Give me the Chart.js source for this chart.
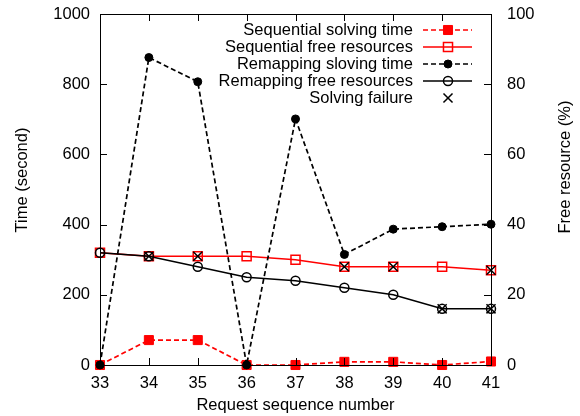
<!DOCTYPE html>
<html>
<head>
<meta charset="utf-8">
<script src="https://cdn.jsdelivr.net/npm/chart.js@4.4.1/dist/chart.umd.min.js"></script>
<style>
  html, body { margin: 0; padding: 0; background: #fff; }
  #wrap { width: 580px; height: 416px; }
</style>
</head>
<body>
<div id="wrap"><canvas id="chart" width="580" height="416"></canvas></div>
<script>
// Data
const requests = [33, 34, 35, 36, 37, 38, 39, 40, 41];
const seqSolveTime = [0, 71, 71, 0, 0, 9, 9, 0, 10];
const seqFreeRes = [32, 31, 31, 31, 30, 28, 28, 28, 27];
const remapSolveTime = [0, 876, 807, 0, 701, 315, 387, 394, 401];
const remapFreeRes = [32, 31, 28, 25, 24, 22, 20, 16, 16];
const failureReq = [34, 35, 38, 39, 40, 41, 41];
const failureRes = [31, 31, 28, 28, 16, 27, 16];

const timeTicks = [0, 200, 400, 600, 800, 1000];
const resTicks = [0, 20, 40, 60, 80, 100];

const FONT = '"Liberation Sans", Arial, sans-serif';
const FS = 16.5;

function pts(xs, ys) {
    return xs.map((x, i) => ({ x: x, y: ys[i] }));
}

// Inner ticks, frame, axis titles and gnuplot style key
const gnuplotLook = {
    id: 'gnuplotLook',
    afterDraw(chart) {
        const ctx = chart.ctx;
        const a = chart.chartArea;
        const xs = chart.scales.x, yl = chart.scales.y, yr = chart.scales.y2;
        const tl = 7;
        ctx.save();
        ctx.strokeStyle = '#000';
        ctx.lineWidth = 1;
        ctx.beginPath();
        requests.forEach(r => {
            const px = Math.round(xs.getPixelForValue(r)) + 0.5;
            ctx.moveTo(px, a.bottom); ctx.lineTo(px, a.bottom - tl);
            ctx.moveTo(px, a.top); ctx.lineTo(px, a.top + tl);
        });
        timeTicks.forEach(v => {
            const py = Math.round(yl.getPixelForValue(v)) + 0.5;
            ctx.moveTo(a.left, py); ctx.lineTo(a.left + tl, py);
        });
        resTicks.forEach(v => {
            const py = Math.round(yr.getPixelForValue(v)) + 0.5;
            ctx.moveTo(a.right, py); ctx.lineTo(a.right - tl, py);
        });
        ctx.stroke();
        ctx.strokeRect(Math.round(a.left) + 0.5, Math.round(a.top) + 0.5,
            Math.round(a.right - a.left), Math.round(a.bottom - a.top));

        // axis titles
        ctx.fillStyle = '#000';
        ctx.font = FS + 'px ' + FONT;
        ctx.textAlign = 'center';
        ctx.textBaseline = 'middle';
        ctx.fillText('Request sequence number', (a.left + a.right) / 2, 405);
        ctx.save();
        ctx.translate(22, 180);
        ctx.rotate(-Math.PI / 2);
        ctx.fillText('Time (second)', 0, 0);
        ctx.restore();
        ctx.save();
        ctx.translate(565, 167);
        ctx.rotate(-Math.PI / 2);
        ctx.fillText('Free resource (%)', 0, 0);
        ctx.restore();

        // key
        const textRight = 413, lineL = 423, lineR = 472, mk = 448;
        chart.data.datasets.forEach((ds, i) => {
            const y = 30 + i * 17;
            ctx.fillStyle = '#000';
            ctx.textAlign = 'right';
            ctx.fillText(ds.label, textRight, y);
            if (ds.showLine !== false) {
                ctx.strokeStyle = ds.borderColor;
                ctx.lineWidth = ds.borderWidth;
                ctx.setLineDash(ds.borderDash || []);
                ctx.beginPath();
                ctx.moveTo(lineL, y); ctx.lineTo(lineR, y);
                ctx.stroke();
                ctx.setLineDash([]);
            }
            ctx.strokeStyle = ds.pointBorderColor;
            ctx.fillStyle = ds.pointBackgroundColor;
            ctx.lineWidth = ds.pointBorderWidth;
            Chart.helpers.drawPoint(ctx, {
                pointStyle: ds.pointStyle,
                radius: ds.pointRadius,
                borderWidth: ds.pointBorderWidth,
                rotation: 0
            }, mk, y);
        });
        ctx.restore();
    }
};

function noPad(s) {
    s.paddingTop = 0; s.paddingBottom = 0;
    s.paddingLeft = 0; s.paddingRight = 0;
}

const ctx = document.getElementById('chart').getContext('2d');
const chart = new Chart(ctx, {
    type: 'line',
    data: {
        datasets: [{
            label: 'Sequential solving time',
            data: pts(requests, seqSolveTime),
            yAxisID: 'y',
            borderColor: '#ff0000',
            borderWidth: 1.7,
            borderDash: [5, 3],
            pointStyle: 'rect',
            pointRadius: 6.4,
            pointBackgroundColor: '#ff0000',
            pointBorderColor: '#ff0000',
            pointBorderWidth: 1,
            order: 4
        }, {
            label: 'Sequential free resources',
            data: pts(requests, seqFreeRes),
            yAxisID: 'y2',
            borderColor: '#ff0000',
            borderWidth: 1.5,
            pointStyle: 'rect',
            pointRadius: 6.4,
            pointBackgroundColor: 'rgba(0,0,0,0)',
            pointBorderColor: '#ff0000',
            pointBorderWidth: 1.5,
            order: 3
        }, {
            label: 'Remapping sloving time',
            data: pts(requests, remapSolveTime),
            yAxisID: 'y',
            borderColor: '#000',
            borderWidth: 1.7,
            borderDash: [5, 3],
            pointStyle: 'circle',
            pointRadius: 4,
            pointBackgroundColor: '#000',
            pointBorderColor: '#000',
            pointBorderWidth: 1,
            order: 2
        }, {
            label: 'Remapping free resources',
            data: pts(requests, remapFreeRes),
            yAxisID: 'y2',
            borderColor: '#000',
            borderWidth: 1.5,
            pointStyle: 'circle',
            pointRadius: 4.5,
            pointBackgroundColor: 'rgba(0,0,0,0)',
            pointBorderColor: '#000',
            pointBorderWidth: 1.5,
            order: 1
        }, {
            label: 'Solving failure',
            data: pts(failureReq, failureRes),
            yAxisID: 'y2',
            showLine: false,
            borderColor: '#000',
            pointStyle: 'crossRot',
            pointRadius: 6.4,
            pointBackgroundColor: '#000',
            pointBorderColor: '#000',
            pointBorderWidth: 1.5,
            order: 0
        }]
    },
    options: {
        responsive: false,
        animation: false,
        clip: false,
        layout: { padding: { top: 14, left: 0, right: 0, bottom: 0 } },
        plugins: {
            legend: { display: false },
            tooltip: { enabled: false }
        },
        elements: { line: { tension: 0 } },
        scales: {
            x: {
                type: 'linear',
                min: 33,
                max: 41,
                afterFit: s => { noPad(s); s.height = 51; },
                afterBuildTicks: s => { s.ticks = requests.map(v => ({ value: v })); },
                grid: { display: false, drawTicks: false },
                border: { display: false },
                ticks: { padding: 9, color: '#000', font: { family: FONT, size: FS }, callback: v => String(v) }
            },
            y: {
                position: 'left',
                min: 0,
                max: 1000,
                afterFit: s => { noPad(s); s.width = 100; },
                afterBuildTicks: s => { s.ticks = timeTicks.map(v => ({ value: v })); },
                grid: { display: false, drawTicks: false },
                border: { display: false },
                ticks: { padding: 10, color: '#000', font: { family: FONT, size: FS }, callback: v => String(v) }
            },
            y2: {
                position: 'right',
                min: 0,
                max: 100,
                afterFit: s => { noPad(s); s.width = 89; },
                afterBuildTicks: s => { s.ticks = resTicks.map(v => ({ value: v })); },
                grid: { display: false, drawTicks: false },
                border: { display: false },
                ticks: { padding: 16, color: '#000', font: { family: FONT, size: FS }, callback: v => String(v) }
            }
        }
    },
    plugins: [gnuplotLook]
});
</script>
</body>
</html>
